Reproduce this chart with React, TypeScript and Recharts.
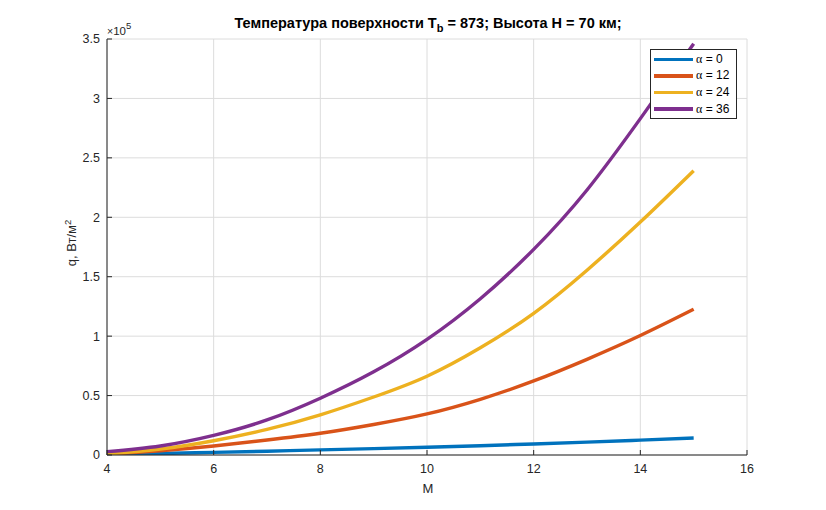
import React from 'react';
import { LineChart, Line, XAxis, YAxis, CartesianGrid } from 'recharts';

// ---- data ----
const machNumbers = [4, 5, 6, 7, 8, 9, 10, 11, 12, 13, 14, 15];
const qAlpha0 = [300, 1200, 2200, 3200, 4300, 5400, 6500, 7800, 9300, 10800, 12500, 14300];
const qAlpha12 = [500, 3600, 7600, 12600, 18300, 25700, 34600, 46900, 62300, 80500, 100500, 122600];
const qAlpha24 = [800, 5000, 12000, 21500, 33800, 48800, 66300, 90200, 119200, 155500, 196000, 239200];
const qAlpha36 = [2800, 7600, 16500, 29500, 47800, 70000, 97300, 131500, 173000, 223000, 283000, 346000];

const xTicks = [4, 6, 8, 10, 12, 14, 16];
const yTicks = [0, 50000, 100000, 150000, 200000, 250000, 300000, 350000];

const seriesKeys = ['a0', 'a12', 'a24', 'a36'];
const seriesAlpha = ['0', '12', '24', '36'];
const seriesColors = ['#0072BD', '#D95319', '#EDB120', '#7E2F8E'];
const seriesValues = [qAlpha0, qAlpha12, qAlpha24, qAlpha36];

const data = machNumbers.map((m, i) => {
  const row: Record<string, number> = { M: m };
  seriesKeys.forEach((k, j) => {
    row[k] = seriesValues[j][i];
  });
  return row;
});

// ---- layout ----
const W = 826;
const H = 510;
const MARGIN = { top: 39, right: 79, bottom: 25, left: 0 };
const Y_AXIS_W = 107;
const X_AXIS_H = 30;
const PLOT_LEFT = MARGIN.left + Y_AXIS_W;
const PLOT_BOTTOM = H - MARGIN.bottom - X_AXIS_H;
const PLOT_TOP = MARGIN.top;

const FONT = '"Liberation Sans", Arial, Helvetica, sans-serif';
const AXIS_COLOR = '#262626';
const TEXT_COLOR = '#262626';

const XTick = (props: any) => {
  const { x, payload } = props;
  return (
    <g>
      <line x1={x} x2={x} y1={PLOT_BOTTOM} y2={PLOT_BOTTOM - 5} stroke={AXIS_COLOR} strokeWidth={1} />
      <text x={x} y={PLOT_BOTTOM + 18} textAnchor="middle" fontSize={12.5} fontFamily={FONT} fill={TEXT_COLOR}>
        {payload.value}
      </text>
    </g>
  );
};

const YTick = (props: any) => {
  const { y, payload } = props;
  const v = payload.value / 1e5;
  return (
    <g>
      <line x1={PLOT_LEFT} x2={PLOT_LEFT + 5} y1={y} y2={y} stroke={AXIS_COLOR} strokeWidth={1} />
      <text x={PLOT_LEFT - 7} y={y} dy="0.35em" textAnchor="end" fontSize={12.5} fontFamily={FONT} fill={TEXT_COLOR}>
        {String(v)}
      </text>
    </g>
  );
};

const XLabel = (props: any) => {
  const vb = props.viewBox || { x: PLOT_LEFT, y: PLOT_BOTTOM, width: 640, height: X_AXIS_H };
  const cx = vb.x + vb.width / 2 + 1;
  return (
    <text x={cx} y={PLOT_BOTTOM + 38} textAnchor="middle" fontSize={13} fontFamily={FONT} fill={TEXT_COLOR}>
      M
    </text>
  );
};

const YLabel = (props: any) => {
  const vb = props.viewBox || { x: 0, y: PLOT_TOP, width: Y_AXIS_W, height: PLOT_BOTTOM - PLOT_TOP };
  const cx = 76;
  const cy = vb.y + vb.height / 2 - 4;
  return (
    <text
      x={cx}
      y={cy}
      transform={`rotate(-90 ${cx} ${cy})`}
      textAnchor="middle"
      fontSize={13}
      fontFamily={FONT}
      fill={TEXT_COLOR}
    >
      q, Вт/м<tspan dy={-5} fontSize={9.5}>2</tspan>
    </text>
  );
};

const LegendBox = () => (
  <div
    style={{
      position: 'absolute',
      left: 650,
      top: 49,
      border: `1px solid ${AXIS_COLOR}`,
      background: '#fff',
      padding: '1px 4px 1px 3px',
      width: 78,
      fontFamily: FONT,
      fontSize: 12,
      color: '#000',
      boxSizing: 'content-box',
    }}
  >
    {seriesKeys.map((k, i) => (
      <div key={k} style={{ display: 'flex', alignItems: 'center', height: 16.6 }}>
        <div style={{ width: 39, height: 3.5, background: seriesColors[i], marginRight: 3, flexShrink: 0 }} />
        <span style={{ whiteSpace: 'nowrap' }}>
          <span style={{ fontFamily: '"Liberation Serif", "Times New Roman", serif' }}>α</span> = {seriesAlpha[i]}
        </span>
      </div>
    ))}
  </div>
);

export default function App() {
  return (
    <div style={{ position: 'absolute', left: 0, top: 0, width: W, height: H, background: '#fff' }}>
      <LineChart width={W} height={H} data={data} margin={MARGIN}>
        <CartesianGrid stroke="#dcdcdc" strokeWidth={1} />
        <XAxis
          dataKey="M"
          type="number"
          domain={[4, 16]}
          ticks={xTicks}
          height={X_AXIS_H}
          tickSize={0}
          tickMargin={0}
          tickLine={false}
          axisLine={{ stroke: AXIS_COLOR, strokeWidth: 1 }}
          tick={<XTick />}
          interval={0}
          label={<XLabel />}
        />
        <YAxis
          type="number"
          domain={[0, 350000]}
          ticks={yTicks}
          width={Y_AXIS_W}
          tickSize={0}
          tickLine={false}
          axisLine={{ stroke: AXIS_COLOR, strokeWidth: 1 }}
          tick={<YTick />}
          interval={0}
          allowDataOverflow
          label={<YLabel />}
        />
        {seriesKeys.map((k, i) => (
          <Line
            key={k}
            dataKey={k}
            name={`α = ${seriesAlpha[i]}`}
            type="natural"
            stroke={seriesColors[i]}
            strokeWidth={3.4}
            dot={false}
            activeDot={false}
            isAnimationActive={false}
          />
        ))}
      </LineChart>
      <svg
        width={W}
        height={H}
        style={{ position: 'absolute', left: 0, top: 0, pointerEvents: 'none' }}
      >
        <text x={428} y={28} textAnchor="middle" fontSize={14.5} fontWeight="bold" fontFamily={FONT} fill="#000">
          Температура поверхности T<tspan dy={4} fontSize={11}>b</tspan>
          <tspan dy={-4}> = 873; Высота H = 70 км;</tspan>
        </text>
        <text x={PLOT_LEFT} y={35} fontSize={11.5} fontFamily={FONT} fill={TEXT_COLOR}>
          <tspan fontSize={10.5}>×</tspan>10<tspan dy={-6} fontSize={9.5}>5</tspan>
        </text>
      </svg>
      <LegendBox />
    </div>
  );
}
